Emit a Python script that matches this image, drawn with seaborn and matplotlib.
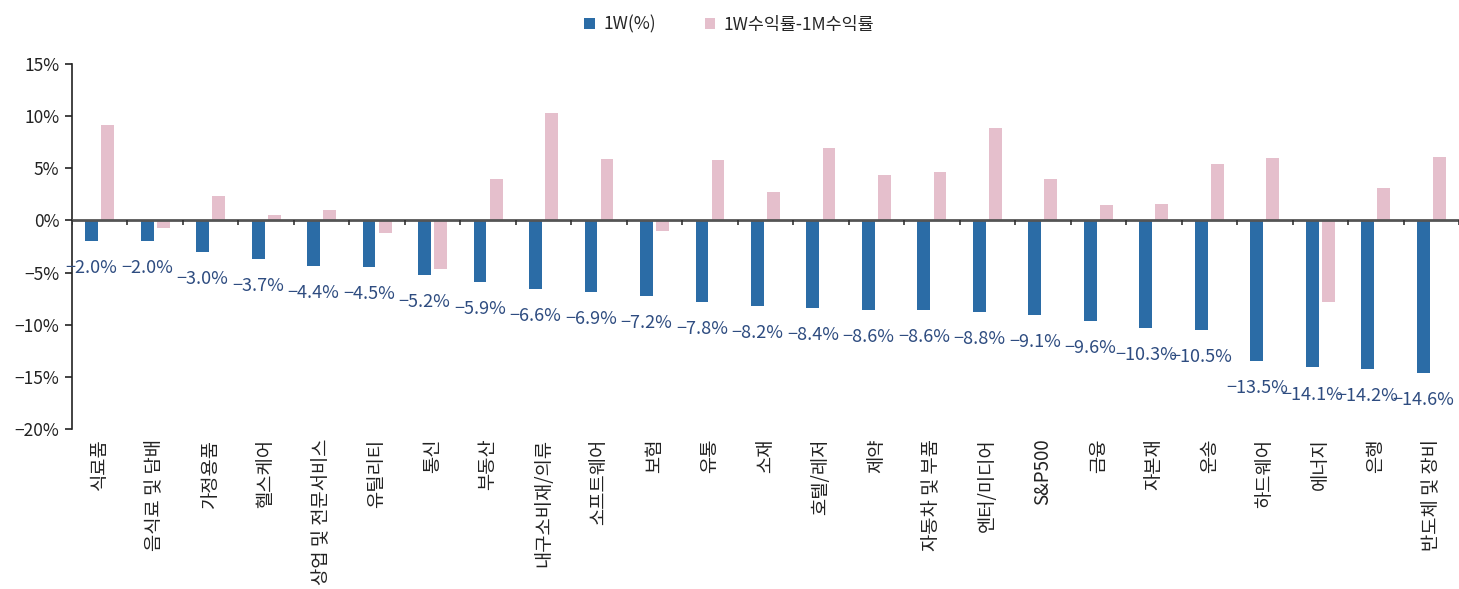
import numpy as np
import pandas as pd
import matplotlib
matplotlib.use("Agg")
import matplotlib.pyplot as plt
import seaborn as sns
from matplotlib.patches import Patch

categories = ["식료품", "음식료 및 담배", "가정용품", "헬스케어", "상업 및 전문서비스", "유틸리티", "통신",
              "부동산", "내구소비재/의류", "소프트웨어", "보험", "유통", "소재", "호텔/레저", "제약",
              "자동차 및 부품", "엔터/미디어", "S&P500", "금융", "자본재", "운송", "하드웨어", "에너지",
              "은행", "반도체 및 장비"]
w1 = [-2.0, -2.0, -3.0, -3.7, -4.4, -4.5, -5.2, -5.9, -6.6, -6.9, -7.2, -7.8, -8.2, -8.4, -8.6,
      -8.6, -8.8, -9.1, -9.6, -10.3, -10.5, -13.5, -14.1, -14.2, -14.6]
diff = [9.2, -0.7, 2.3, 0.55, 1.0, -1.25, -4.7, 4.0, 10.3, 5.9, -1.0, 5.8, 2.75, 6.9, 4.4,
        4.6, 8.9, 4.0, 1.5, 1.6, 5.4, 6.0, -7.8, 3.1, 6.1]
series_names = ["1W(%)", "1W수익률-1M수익률"]
yticks = [15, 10, 5, 0, -5, -10, -15, -20]

sns.set_theme(style="white")
plt.rcParams['font.family'] = ['Noto Sans CJK KR', 'DejaVu Sans']
plt.rcParams['axes.unicode_minus'] = True

df = pd.DataFrame({
    "cat": categories * 2,
    "val": w1 + diff,
    "series": [series_names[0]] * len(categories) + [series_names[1]] * len(categories),
})

fig = plt.figure(figsize=(14.59, 5.89), dpi=100)
ax = fig.add_axes([0.0493, 0.2716, 0.9507, 0.6197])

palette = {series_names[0]: "#2B6CA6", series_names[1]: "#E5BFCC"}
sns.barplot(data=df, x="cat", y="val", hue="series", order=categories, hue_order=series_names,
            palette=palette, width=0.58, gap=0.2, ax=ax, legend=False, saturation=1,
            edgecolor="none")

ax.set_ylim(-20, 15)
ax.set_xlim(-0.5, len(categories) - 0.5)
ax.set_yticks(yticks)
ax.set_yticklabels([f"{v}%".replace("-", "\u2212") for v in yticks], fontsize=12.5, color="#222222")
ax.set_xticks(range(len(categories)))
ax.set_xticklabels(categories, rotation=90, fontsize=13.5, color="#222222", va="top", ha="center")
ax.tick_params(axis="x", length=0, pad=7)
ax.tick_params(axis="y", length=5, width=1.2, color="#222222", direction="out", left=True, pad=4)
ax.set_xlabel("")
ax.set_ylabel("")
for s in ["top", "right", "bottom"]:
    ax.spines[s].set_visible(False)
ax.spines["left"].set_color("#222222")
ax.spines["left"].set_linewidth(1.2)

ax.axhline(0, color="#555555", linewidth=2, zorder=3)
ax.vlines(np.arange(len(categories) + 1) - 0.5, -0.45, 0, color="#333333", linewidth=1.2, zorder=3)

for bar, v in zip(ax.containers[0], w1):
    x = bar.get_x() + bar.get_width() / 2
    ax.annotate(f"{v:.1f}%".replace("-", "\u2212"), (x, v), xytext=(0, -19.5),
                textcoords="offset points", ha="center", va="center",
                fontsize=13, color="#2E4C80", zorder=4)

handles = [Patch(facecolor=palette[n], edgecolor="none") for n in series_names]
fig.legend(handles, series_names, loc="upper center", bbox_to_anchor=(0.5, 1.0), ncol=2,
           frameon=False, fontsize=12.5, handlelength=0.6, handleheight=0.6, handletextpad=0.5,
           columnspacing=2.8)

fig.savefig("out.png", dpi=100)
